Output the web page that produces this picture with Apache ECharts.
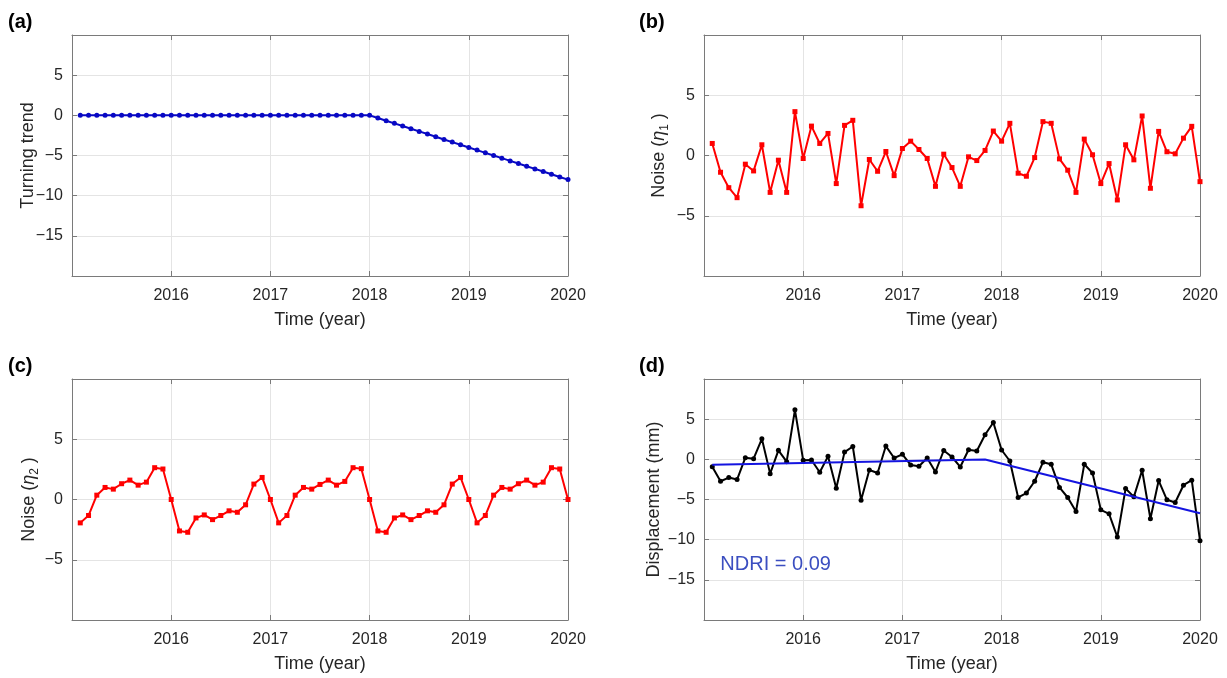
<!DOCTYPE html>
<html><head><meta charset="utf-8">
<script src="https://cdn.jsdelivr.net/npm/echarts@6/dist/echarts.min.js"></script>
<style>html,body{margin:0;padding:0;background:#fff}#c{width:1227px;height:678px}</style>
</head><body><div id="c"></div>
<script>
// ---- data ----
const time = [
  2015.0833, 2015.1667, 2015.25, 2015.3333, 2015.4167, 2015.5, 2015.5833, 2015.6667, 2015.75, 2015.8333, 2015.9167, 2016,
  2016.0833, 2016.1667, 2016.25, 2016.3333, 2016.4167, 2016.5, 2016.5833, 2016.6667, 2016.75, 2016.8333, 2016.9167, 2017,
  2017.0833, 2017.1667, 2017.25, 2017.3333, 2017.4167, 2017.5, 2017.5833, 2017.6667, 2017.75, 2017.8333, 2017.9167, 2018,
  2018.0833, 2018.1667, 2018.25, 2018.3333, 2018.4167, 2018.5, 2018.5833, 2018.6667, 2018.75, 2018.8333, 2018.9167, 2019,
  2019.0833, 2019.1667, 2019.25, 2019.3333, 2019.4167, 2019.5, 2019.5833, 2019.6667, 2019.75, 2019.8333, 2019.9167, 2020
];
const turningTrend = [
  0, 0, 0, 0, 0, 0, 0, 0, 0, 0, 0, 0,
  0, 0, 0, 0, 0, 0, 0, 0, 0, 0, 0, 0,
  0, 0, 0, 0, 0, 0, 0, 0, 0, 0, 0, 0,
  -0.33, -0.67, -1, -1.33, -1.67, -2, -2.33, -2.67, -3, -3.33, -3.67, -4,
  -4.33, -4.67, -5, -5.33, -5.67, -6, -6.33, -6.67, -7, -7.33, -7.67, -8
];
const noise1 = [
  1.0, -1.39, -2.67, -3.5, -0.72, -1.28, 0.89, -3.06, -0.39, -3.06, 3.64, -0.25,
  2.44, 1.0, 1.83, -2.33, 2.5, 2.92, -4.17, -0.33, -1.31, 0.33, -1.67, 0.58,
  1.19, 0.5, -0.25, -2.56, 0.11, -1.0, -2.56, -0.11, -0.42, 0.42, 2.03, 1.19,
  2.67, -1.47, -1.72, -0.17, 2.81, 2.67, -0.28, -1.22, -3.06, 1.36, 0.06, -2.33,
  -0.67, -3.69, 0.89, -0.36, 3.28, -2.72, 2.0, 0.31, 0.14, 1.44, 2.42, -2.17
];
const noise2 = [
  -1.94, -1.33, 0.36, 1.0, 0.86, 1.31, 1.61, 1.19, 1.44, 2.64, 2.53, 0,
  -2.61, -2.72, -1.53, -1.28, -1.67, -1.33, -0.94, -1.06, -0.44, 1.28, 1.83, 0,
  -1.94, -1.33, 0.36, 1.0, 0.86, 1.25, 1.61, 1.19, 1.5, 2.64, 2.56, 0,
  -2.61, -2.72, -1.53, -1.28, -1.67, -1.33, -0.94, -1.06, -0.44, 1.28, 1.83, 0,
  -1.94, -1.33, 0.36, 1.0, 0.86, 1.31, 1.61, 1.19, 1.44, 2.64, 2.53, 0
];
const displacement = [
  -0.91, -2.73, -2.27, -2.52, 0.21, 0.08, 2.56, -1.78, 1.12, -0.29, 6.16, -0.12,
  -0.08, -1.6, 0.37, -3.6, 0.9, 1.6, -5.08, -1.32, -1.7, 1.65, 0.17, 0.62,
  -0.7, -0.87, 0.17, -1.57, 1.1, 0.29, -0.95, 1.2, 1.03, 3.06, 4.59, 1.16,
  -0.21, -4.75, -4.2, -2.73, -0.37, -0.62, -3.5, -4.75, -6.49, -0.62, -1.7, -6.28,
  -6.78, -9.67, -3.64, -4.67, -1.36, -7.4, -2.64, -5.04, -5.37, -3.22, -2.6, -10.12
];
const fitTime = [2015.0833, 2017.8333, 2020];
const fitValue = [-0.66, -0.03, -6.7];
const ndriText = 'NDRI = 0.09';
const ndriAnchor = [2015.16, -13.1];
const panelLetters = ['(a)', '(b)', '(c)', '(d)'];
const xTitle = 'Time (year)';
const yTitles = ['Turning trend', 'Noise ({it|η}{sub|1}{n| )}', 'Noise ({it|η}{sub|2}{n| )}', 'Displacement (mm)'];
const xRange = { min: 2015, max: 2020, interval: 1 };
const yWide = { min: -20, max: 10, interval: 5 };
const yNarrow = { min: -10, max: 10, interval: 5 };

// ---- style ----
const FONT = '"Liberation Sans", Arial, sans-serif';
const AX = '#7a7a7a';
const GRIDC = '#e4e4e4';
const TXT = '#262626';
const grids = [
  { left: 72, top: 35, width: 496, height: 241 },
  { left: 704, top: 35, width: 496, height: 241 },
  { left: 72, top: 379, width: 496, height: 241 },
  { left: 704, top: 379, width: 496, height: 241 }
];
const yRanges = [yWide, yNarrow, yNarrow, yWide];
const yGaps = [35, 33, 31, 41];
const letterPos = [[8, 12], [639, 12], [8, 356], [639, 356]];

const pair = (xs, ys) => xs.map((x, i) => [x, ys[i]]);
const minusFmt = v => (v < 0 ? '\u2212' + Math.abs(v) : String(v));

const nameStyle = {
  fontSize: 18, color: TXT, fontFamily: FONT,
  rich: {
    n: { fontSize: 18, color: TXT, fontFamily: FONT, lineHeight: 24 },
    it: { fontSize: 18, color: TXT, fontFamily: FONT, fontStyle: 'italic', lineHeight: 24 },
    sub: { fontSize: 12, color: TXT, fontFamily: FONT, verticalAlign: 'bottom', lineHeight: 14 }
  }
};

const xAxes = [], yAxes = [];
grids.forEach((g, i) => {
  xAxes.push({
    gridIndex: i, type: 'value', ...xRange, position: 'bottom',
    axisLine: { show: true, onZero: false, lineStyle: { color: AX, width: 1 } },
    axisTick: { show: true, inside: true, length: 5, lineStyle: { color: AX } },
    axisLabel: { show: true, showMinLabel: false, color: TXT, fontSize: 16, fontFamily: FONT, margin: 12, formatter: v => String(v) },
    splitLine: { show: true, lineStyle: { color: GRIDC, width: 1 } },
    name: xTitle, nameLocation: 'middle', nameGap: 35, nameMoveOverlap: false,
    nameTextStyle: { fontSize: 18, color: TXT, fontFamily: FONT }
  });
  const yr = yRanges[i];
  const richName = i === 1 || i === 2;
  yAxes.push({
    gridIndex: i, type: 'value', ...yr, position: 'left',
    axisLine: { show: true, onZero: false, lineStyle: { color: AX, width: 1 } },
    axisTick: { show: true, inside: true, length: 5, lineStyle: { color: AX } },
    axisLabel: { show: true, showMinLabel: false, showMaxLabel: false, color: TXT, fontSize: 16, fontFamily: FONT, margin: 9, formatter: minusFmt },
    splitLine: { show: true, lineStyle: { color: GRIDC, width: 1 } },
    name: richName ? '{n|' + yTitles[i].replace(/^Noise \(/, 'Noise (}') : yTitles[i],
    nameLocation: 'middle', nameGap: yGaps[i], nameRotate: 90, nameMoveOverlap: false,
    nameTextStyle: nameStyle
  });
});
grids.forEach((g, i) => {
  xAxes.push({
    gridIndex: i, type: 'value', ...xRange, position: 'top',
    axisLine: { show: true, onZero: false, lineStyle: { color: AX, width: 1 } },
    axisTick: { show: true, inside: true, length: 5, lineStyle: { color: AX } },
    axisLabel: { show: false }, splitLine: { show: false }
  });
  yAxes.push({
    gridIndex: i, type: 'value', ...yRanges[i], position: 'right',
    axisLine: { show: true, onZero: false, lineStyle: { color: AX, width: 1 } },
    axisTick: { show: true, inside: true, length: 5, lineStyle: { color: AX } },
    axisLabel: { show: false }, splitLine: { show: false }
  });
});

const lineSeries = (idx, data, color, symbol) => ({
  type: 'line', xAxisIndex: idx, yAxisIndex: idx, data: data,
  symbol: symbol, symbolSize: 5, showSymbol: true,
  lineStyle: { color: color, width: 2 }, itemStyle: { color: color },
  z: 3
});

const option = {
  animation: false,
  backgroundColor: '#fff',
  title: panelLetters.map((t, i) => ({
    text: t, left: letterPos[i][0], top: letterPos[i][1], padding: 0,
    textStyle: { fontSize: 20, fontWeight: 'bold', color: '#000', fontFamily: FONT }
  })),
  grid: grids,
  xAxis: xAxes,
  yAxis: yAxes,
  series: [
    lineSeries(0, pair(time, turningTrend), '#0808c4', 'circle'),
    lineSeries(1, pair(time, noise1), '#ff0000', 'rect'),
    lineSeries(2, pair(time, noise2), '#ff0000', 'rect'),
    lineSeries(3, pair(time, displacement), '#000000', 'circle'),
    {
      type: 'line', xAxisIndex: 3, yAxisIndex: 3, data: pair(fitTime, fitValue),
      symbol: 'none', lineStyle: { color: '#1414e0', width: 2 }, z: 4
    },
    {
      type: 'scatter', xAxisIndex: 3, yAxisIndex: 3, data: [ndriAnchor],
      symbolSize: 1, itemStyle: { color: 'rgba(0,0,0,0)' }, silent: true,
      label: { show: true, position: 'right', distance: 0, formatter: ndriText,
        color: '#0a22b0', fontSize: 20, fontFamily: FONT }
    }
  ]
};
const chart = echarts.init(document.getElementById('c'), null, { renderer: 'canvas' });
chart.setOption(option);
</script>
</body></html>
